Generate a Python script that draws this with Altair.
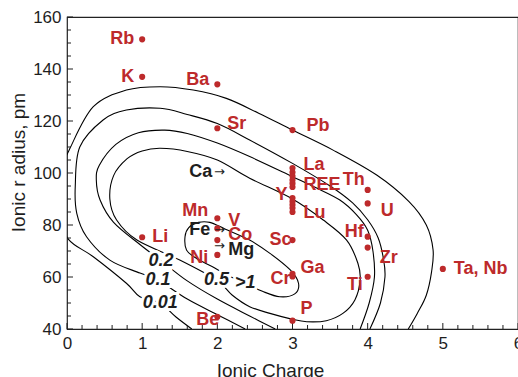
import altair as alt
import pandas as pd

# ---------------- contour curves (ionic charge, ionic radius) ----------------
c001_x = [1.66, 1.45, 1.24, 0.97, 0.79, 0.35, 0.02, -0.12, -0.08, 0.04, 0.35, 0.79, 1.24, 1.68, 2.12, 2.55, 3.0, 3.54, 4.12, 4.55, 4.78, 4.87, 4.85, 4.78, 4.66, 4.54]
c001_y = [40, 44.6, 49.9, 52.4, 57.6, 67.8, 74.5, 85, 100, 109.5, 125.5, 131.9, 133.2, 131.9, 128.7, 123, 116.5, 108.8, 99.2, 89, 80, 70.5, 62, 53, 46, 40]

c01_x = [2.37, 2.0, 1.6, 1.21, 0.97, 0.57, 0.26, 0.13, 0.11, 0.17, 0.48, 0.79, 1.24, 1.6, 2.0, 2.43, 3.0, 3.5, 3.8, 4.0, 4.14, 4.21, 4.23, 4.17, 4.03]
c01_y = [40, 45.5, 51.5, 58.8, 61.5, 66.5, 75.5, 84.5, 95, 110, 120.4, 124.2, 124.9, 122.5, 119, 112.7, 103.7, 95, 88.5, 82, 75, 67, 60, 50, 40]

c02_x = [2.77, 2.43, 2.0, 1.6, 1.25, 0.97, 0.62, 0.44, 0.39, 0.43, 0.65, 0.95, 1.3, 1.6, 2.0, 2.43, 3.0, 3.3, 3.63, 3.85, 4.0, 4.07, 4.09, 4.02, 3.9]
c02_y = [40, 45, 51.5, 58.5, 66.3, 72.5, 81, 89.6, 97.3, 103, 111, 115.5, 116.5, 115.2, 111.5, 106.3, 98.6, 94.5, 89.6, 84, 78, 70, 60, 50, 40]

c05_x = [0.57, 0.62, 0.8, 1.0, 1.24, 1.6, 2.0, 2.43, 3.0, 3.41, 3.72, 3.87, 3.9, 3.83, 3.67, 3.45, 3.19, 2.99, 2.7, 2.43, 2.2, 1.99, 1.5, 0.93, 0.66]
c05_y = [90, 99, 105.5, 108.5, 109.5, 108.3, 105, 98, 90, 81.9, 74.2, 65.3, 58.8, 51.2, 46, 43.2, 42.8, 43.8, 46, 48.6, 53, 58.8, 66.5, 74.2, 81.9]

c1_x = [1.57, 1.62, 1.75, 1.9, 2.1, 2.43, 2.7, 2.97, 3.08, 3.03, 2.83, 2.6, 2.37, 2.15, 1.93, 1.72, 1.59]
c1_y = [75.5, 79, 81, 81, 78.5, 74.2, 69.1, 62.7, 57.6, 53.5, 52.4, 54.5, 57.6, 60.5, 64, 67.2, 70.4]

# contour labels
clabel_text = ["0.2", "0.1", "0.01", "0.5", ">1"]
clabel_x = [1.25, 1.21, 1.24, 1.99, 2.37]
clabel_y = [66.3, 58.8, 49.9, 58.8, 57.6]

# ---------------- elements ----------------
el_name = ["Rb", "K", "Ba", "Sr", "Pb", "La", "REE", "Y", "Lu", "Sc", "Th", "U", "Hf", "Zr", "Ti",
           "Ta, Nb", "Ga", "Cr", "P", "Be", "Li", "Mn", "V", "Co", "Ni"]
el_charge = [1, 1, 2, 2, 3, 3, 3, 3, 3, 3, 4, 4, 4, 4, 4, 5, 3, 3, 3, 2, 1, 2, 2, 2, 2]
el_radius = [151.4, 137, 134.1, 117.2, 116.5, 101.9, 96, 90.4, 86.5, 74.2, 93.5, 88.3, 75.5, 71.3, 60.1,
             63.1, 61.2, 60.2, 43.2, 44.7, 75.3, 82.6, 78.7, 74.2, 68.5]

# extra rare-earth points (unlabelled) along charge 3
ree_radius = [100.3, 98.8, 97.3, 94.6, 89, 87.8, 85]

# black reference ions
ref_name = ["Ca", "Fe", "Mg"]
ref_charge = [2, 2, 2]
ref_radius = [100.4, 78.1, 72.0]

# axis ticks
x_major = [0, 1, 2, 3, 4, 5, 6]
x_minor = [round(i * 0.2, 1) for i in range(31) if i % 5 != 0]
y_major = [40, 60, 80, 100, 120, 140, 160]
y_minor = [v for v in range(40, 161, 5) if v % 20 != 0]

# ---------------- styling (label placement in px) ----------------
label_style = {
    "Rb": ("right", -8, 0), "K": ("right", -8, 0), "Ba": ("right", -8, -4), "Sr": ("left", 10, -4),
    "Pb": ("left", 14, -4), "La": ("left", 11, -3), "REE": ("left", 11, 2), "Y": ("right", -5, -3),
    "Lu": ("left", 11, 5), "Sc": ("right", -1, 0), "Th": ("right", -3, -10), "U": ("left", 13, 8),
    "Hf": ("right", -4, -5), "Zr": ("left", 12, 10), "Ti": ("right", -5, 8), "Ta, Nb": ("left", 11, 0),
    "Ga": ("left", 8, -6), "Cr": ("right", -2, 3), "P": ("left", 8, -12), "Be": ("right", 2, 3),
    "Li": ("left", 10, 0), "Mn": ("right", -9, -7), "V": ("left", 11, -7), "Co": ("left", 11, -5),
    "Ni": ("right", -9, 3),
}
ref_style = {"Ca": ("right", -5, 0), "Fe": ("right", -7, 0), "Mg": ("left", 11, 4)}
RED = "#BD2A2B"
INK = "#1e1e1e"
W, H = 451, 312

lines_open = []
for lvl, xs_, ys_ in [("0.01", c001_x, c001_y), ("0.1", c01_x, c01_y), ("0.2", c02_x, c02_y)]:
    for i, (a, b) in enumerate(zip(xs_, ys_)):
        lines_open.append({"level": lvl, "o": i, "x": a, "y": b})
lines_closed = []
for lvl, xs_, ys_ in [("0.5", c05_x, c05_y), (">1", c1_x, c1_y)]:
    for i, (a, b) in enumerate(zip(xs_, ys_)):
        lines_closed.append({"level": lvl, "o": i, "x": a, "y": b})

df_open = pd.DataFrame(lines_open)
df_closed = pd.DataFrame(lines_closed)
df_clab = pd.DataFrame({"t": clabel_text, "x": clabel_x, "y": clabel_y})
df_el = pd.DataFrame({"name": el_name, "x": el_charge, "y": el_radius})
df_ree = pd.DataFrame({"x": [3] * len(ree_radius), "y": ree_radius})
df_ref = pd.DataFrame({"name": ref_name, "x": ref_charge, "y": ref_radius})

xs = alt.Scale(domain=[0, 6], nice=False, zero=False)
ys = alt.Scale(domain=[40, 160], nice=False, zero=False)

x_axis = alt.Axis(values=x_major, format="d", ticks=False, domain=False, grid=False, labelPadding=6,
                  labelFont="Liberation Sans", labelFontSize=17, labelColor=INK, labelFlush=False,
                  labelOverlap=False, labelBound=False,
                  title="Ionic  Charge", titleFont="Liberation Sans", titleFontSize=19, titleFontWeight="normal",
                  titleColor=INK, titleX=203, titleY=47, titleBaseline="alphabetic", titleAnchor="start",
                  titleAlign="center")
y_axis = alt.Axis(values=y_major, format="d", ticks=False, domain=False, grid=False, labelPadding=6,
                  labelFont="Liberation Sans", labelFontSize=17, labelColor=INK, labelFlush=False,
                  labelOverlap=False,
                  title="Ionic r adius,  pm", titleFont="Liberation Sans", titleFontSize=19, titleFontWeight="normal",
                  titleColor=INK, titleX=-43, titleY=145, titleBaseline="alphabetic", titleAlign="center",
                  titleAngle=270)

base_open = alt.Chart(df_open).mark_line(color="black", strokeWidth=1.1, interpolate="cardinal", clip=True).encode(
    x=alt.X("x:Q", scale=xs, axis=x_axis),
    y=alt.Y("y:Q", scale=ys, axis=y_axis),
    detail="level:N", order="o:Q")

closed = alt.Chart(df_closed).mark_line(color="black", strokeWidth=1.1, interpolate="cardinal-closed", clip=True).encode(
    x="x:Q", y="y:Q", detail="level:N", order="o:Q")

# tick marks (inward)
xt_major = alt.Chart(pd.DataFrame({"v": x_major})).mark_rule(color=INK, strokeWidth=1).encode(
    x="v:Q", y=alt.value(H), y2=alt.value(H - 6))
xt_minor = alt.Chart(pd.DataFrame({"v": x_minor})).mark_rule(color=INK, strokeWidth=1).encode(
    x="v:Q", y=alt.value(H), y2=alt.value(H - 4))
yt_major = alt.Chart(pd.DataFrame({"v": y_major})).mark_rule(color=INK, strokeWidth=1).encode(
    y="v:Q", x=alt.value(0), x2=alt.value(6))
yt_minor = alt.Chart(pd.DataFrame({"v": y_minor})).mark_rule(color=INK, strokeWidth=1).encode(
    y="v:Q", x=alt.value(0), x2=alt.value(4))

halo = alt.Chart(df_clab).mark_text(font="Liberation Sans", fontSize=18, fontWeight="bold", fontStyle="italic",
                                     stroke="white", strokeWidth=6, color="white").encode(x="x:Q", y="y:Q", text="t:N")
clab = alt.Chart(df_clab).mark_text(font="Liberation Sans", fontSize=18, fontWeight="bold", fontStyle="italic",
                                     color=INK).encode(x="x:Q", y="y:Q", text="t:N")

pts = alt.Chart(df_el).mark_circle(size=38, color=RED, opacity=1).encode(x="x:Q", y="y:Q")
ree = alt.Chart(df_ree).mark_circle(size=38, color=RED, opacity=1).encode(x="x:Q", y="y:Q")

labels = []
for nm, (al, dx, dy) in label_style.items():
    sub = df_el[df_el.name == nm]
    labels.append(alt.Chart(sub).mark_text(font="Liberation Sans", fontSize=18, fontWeight="bold", color=RED,
                                           align=al, dx=dx, dy=dy, baseline="middle").encode(x="x:Q", y="y:Q", text="name:N"))
for nm, (al, dx, dy) in ref_style.items():
    sub = df_ref[df_ref.name == nm]
    labels.append(alt.Chart(sub).mark_text(font="Liberation Sans", fontSize=18, fontWeight="bold", color=INK,
                                           align=al, dx=dx, dy=dy, baseline="middle").encode(x="x:Q", y="y:Q", text="name:N"))

ref_mk = alt.Chart(df_ref).mark_text(font="DejaVu Sans", fontSize=13, color=INK, align="center", dx=2,
                                     baseline="middle", text="\u2192").encode(x="x:Q", y="y:Q")

chart = alt.layer(base_open, closed, xt_major, xt_minor, yt_major, yt_minor, halo, clab, ree, pts, *labels, ref_mk).properties(
    width=W, height=H,
    padding={"left": 67, "top": 17, "right": 0, "bottom": 48},
    autosize=alt.AutoSizeParams(type="none"),
    background="white",
).configure_view(stroke="#222", strokeWidth=1.2)

chart.save("out.html", embed_options={"renderer": "svg", "actions": False})
